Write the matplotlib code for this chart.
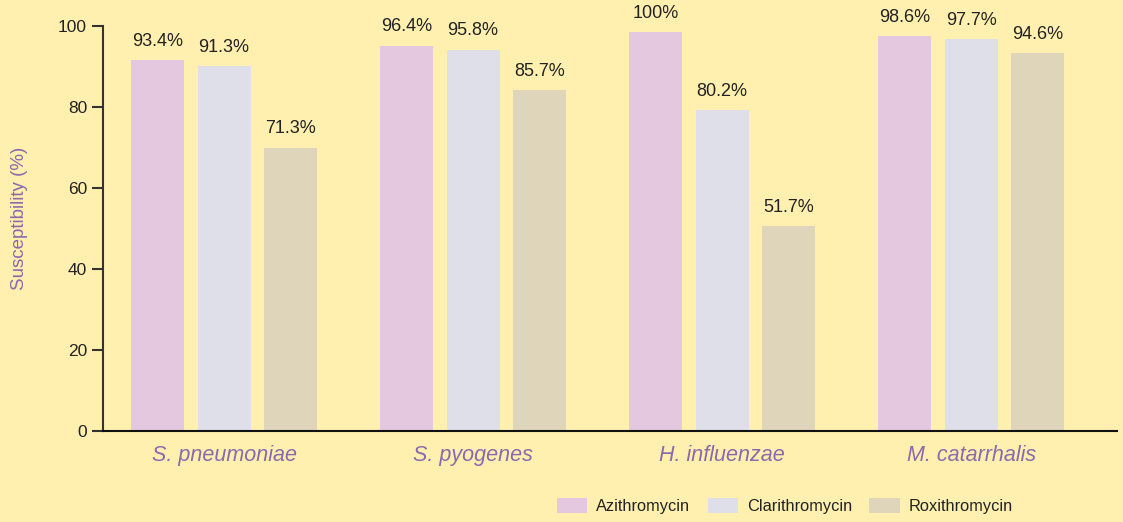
import matplotlib
matplotlib.use("Agg")
import matplotlib.pyplot as plt
import numpy as np

categories = ["S. pneumoniae", "S. pyogenes", "H. influenzae", "M. catarrhalis"]
series_names = ["Azithromycin", "Clarithromycin", "Roxithromycin"]
# bar heights as drawn in the picture
azithromycin = [91.6, 95.1, 98.5, 97.5]
clarithromycin = [90.1, 94.1, 79.2, 96.8]
roxithromycin = [69.9, 84.2, 50.6, 93.3]
# printed value labels
azithromycin_labels = ["93.4%", "96.4%", "100%", "98.6%"]
clarithromycin_labels = ["91.3%", "95.8%", "80.2%", "97.7%"]
roxithromycin_labels = ["71.3%", "85.7%", "51.7%", "94.6%"]
yticks = [0, 20, 40, 60, 80, 100]

colors = ["#E3C8DF", "#DFDFE9", "#DFD5BA"]
bg = "#FFF0B0"
purple = "#8C68AC"
dark = "#222222"

plt.rcParams['font.family'] = ['Liberation Sans', 'DejaVu Sans']

fig = plt.figure(figsize=(11.23, 5.22), dpi=100, facecolor=bg)
ax = fig.add_axes([103/1123, 1-430.7/522, (1117-103)/1123, (430.7-26)/522])
ax.set_facecolor(bg)

x = np.arange(len(categories))
width = 0.213
offset = 0.266
vals = [azithromycin, clarithromycin, roxithromycin]
labs = [azithromycin_labels, clarithromycin_labels, roxithromycin_labels]
handles = []
for i, (v, l, c, n) in enumerate(zip(vals, labs, colors, series_names)):
    bars = ax.bar(x + (i-1)*offset, v, width, color=c, label=n, zorder=2)
    handles.append(bars)
    for b, t in zip(bars, l):
        ax.annotate(t, (b.get_x()+b.get_width()/2, b.get_height()),
                    xytext=(0, 7.5), textcoords='offset points',
                    ha='center', va='bottom', fontsize=13, color=dark)

ax.set_xlim(-0.486, 3.586)
ax.set_ylim(0, 100)
ax.set_yticks(yticks)
ax.set_xticks(x)
ax.set_xticklabels(categories, fontsize=15.5, style='italic', color=purple)
ax.tick_params(axis='x', length=0, pad=10)
ax.tick_params(axis='y', length=8, width=1.5, pad=3.5, labelsize=12.5, colors='#333333', labelcolor=dark)
for s in ['top', 'right']:
    ax.spines[s].set_visible(False)
ax.spines['left'].set_color('#333333')
ax.spines['left'].set_linewidth(1.5)
ax.spines['bottom'].set_color('#111111')
ax.spines['bottom'].set_linewidth(1.5)

fig.text(20/1123, 1-218/522, "Susceptibility (%)", rotation=90, ha='center', va='center',
         fontsize=13.5, color=purple)

fig.legend(handles=handles, labels=series_names, ncol=3, loc='center',
           bbox_to_anchor=(785/1123, 1-506/522), frameon=False, fontsize=11.8,
           handlelength=1.85, handleheight=1.0, handletextpad=0.55, columnspacing=1.05,
           labelcolor=dark)

fig.savefig("out.png", dpi=100, facecolor=bg)
